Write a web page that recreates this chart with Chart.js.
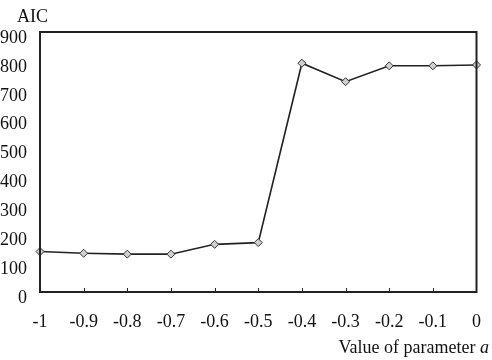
<!DOCTYPE html>
<html>
<head>
<meta charset="utf-8">
<script src="https://cdn.jsdelivr.net/npm/chart.js@4/dist/chart.umd.min.js"></script>
<style>
  html, body { margin: 0; padding: 0; background: #fff; }
  #wrap { width: 492px; height: 360px; }
</style>
</head>
<body>
<div id="wrap"><canvas id="aicChart" width="492" height="360"></canvas></div>
<script>
const paramValues = [-1, -0.9, -0.8, -0.7, -0.6, -0.5, -0.4, -0.3, -0.2, -0.1, 0];
const aicValues = [140, 134, 131, 131, 165, 171, 792, 728, 783, 783, 786];
const yTicks = [0, 100, 200, 300, 400, 500, 600, 700, 800, 900];

const FONT = "'Liberation Serif', 'Times New Roman', serif";
const LINE_COLOR = "#222";

let points = [];
for (let i = 0; i < paramValues.length; i++) {
    points.push({ x: paramValues[i], y: aicValues[i] });
}

// frame, inner tick marks and the two axis captions
const framePlugin = {
    id: 'frame',
    afterDraw(chart) {
        const ctx = chart.ctx;
        const a = chart.chartArea;
        const xs = chart.scales.x;
        ctx.save();
        ctx.strokeStyle = LINE_COLOR;
        ctx.lineWidth = 2;
        ctx.strokeRect(a.left, a.top, a.right - a.left, a.bottom - a.top);

        ctx.lineWidth = 1;
        for (let i = 1; i < paramValues.length - 1; i++) {
            const px = Math.round(xs.getPixelForValue(paramValues[i])) + 0.5;
            ctx.beginPath();
            ctx.moveTo(px, a.bottom);
            ctx.lineTo(px, a.bottom - 4);
            ctx.stroke();
        }

        ctx.fillStyle = "#111";
        ctx.textBaseline = 'alphabetic';
        ctx.font = "18px " + FONT;
        ctx.textAlign = 'left';
        ctx.fillText("AIC", 17, 22);

        const mainText = "Value of parameter ";
        ctx.font = "18px " + FONT;
        const w1 = ctx.measureText(mainText).width;
        ctx.font = "italic 18px " + FONT;
        const w2 = ctx.measureText("a").width;
        const startX = 489 - w1 - w2;
        ctx.font = "18px " + FONT;
        ctx.fillText(mainText, startX, 353);
        ctx.font = "italic 18px " + FONT;
        ctx.fillText("a", startX + w1, 353);
        ctx.restore();
    }
};

const ctx = document.getElementById("aicChart").getContext("2d");

new Chart(ctx, {
    type: 'line',
    data: {
        datasets: [{
            data: points,
            borderColor: LINE_COLOR,
            borderWidth: 1.6,
            tension: 0,
            fill: false,
            pointStyle: 'rectRot',
            pointRadius: 4,
            pointBackgroundColor: "#cfcfcf",
            pointBorderColor: "#333",
            pointBorderWidth: 1
        }]
    },
    options: {
        responsive: false,
        animation: false,
        clip: false,
        layout: { padding: { left: 0, right: 11, top: 32, bottom: 0 } },
        plugins: {
            legend: { display: false },
            tooltip: { enabled: false }
        },
        scales: {
            x: {
                type: 'linear',
                min: -1,
                max: 0,
                afterBuildTicks: scale => {
                    scale.ticks = paramValues.map(v => ({ value: v }));
                },
                afterFit: scale => { scale.height = 68; },
                grid: { display: false },
                border: { display: false },
                ticks: {
                    color: "#111",
                    padding: 11,
                    maxRotation: 0,
                    autoSkip: false,
                    font: { family: FONT, size: 18 },
                    callback: v => String(Math.round(v * 10) / 10)
                }
            },
            y: {
                min: 0,
                max: 900,
                afterBuildTicks: scale => {
                    scale.ticks = yTicks.map(v => ({ value: v }));
                },
                afterFit: scale => { scale.width = 40; },
                grid: { display: false },
                border: { display: false },
                ticks: {
                    color: "#111",
                    padding: 5,
                    labelOffset: 6,
                    font: { family: FONT, size: 18 }
                }
            }
        }
    },
    plugins: [framePlugin]
});
</script>
</body>
</html>
